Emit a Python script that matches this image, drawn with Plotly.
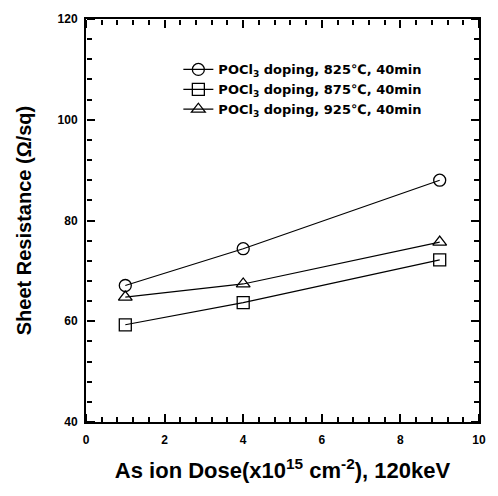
import plotly.graph_objects as go

dose = [1, 4, 9]
r_825 = [67.1, 74.4, 88.0]
r_875 = [59.3, 63.7, 72.2]
r_925 = [64.8, 67.4, 75.7]
labels = ["POCl<sub>3</sub> doping, 825℃, 40min",
          "POCl<sub>3</sub> doping, 875℃, 40min",
          "POCl<sub>3</sub> doping, 925℃, 40min"]
symbols = ["circle-open", "square-open", "triangle-up-open"]
x_range = [0, 10]
y_range = [40, 120]

FONT = "Liberation Sans, Arial, sans-serif"
LFONT = "DejaVu Sans, sans-serif"
fig = go.Figure()
for y, lab, sym in zip([r_825, r_875, r_925], labels, symbols):
    fig.add_trace(go.Scatter(
        x=dose, y=y, name=lab, mode="lines+markers",
        line=dict(color="black", width=1.2),
        marker=dict(symbol=sym, size=12, color="black", line=dict(width=1.3, color="black")),
    ))
# empty helper traces so the inward-pointing tick axes are drawn
for xa, ya in [("x2", "y2"), ("x3", "y3")]:
    fig.add_trace(go.Scatter(x=[None], y=[None], xaxis=xa, yaxis=ya,
                             showlegend=False, hoverinfo="skip", mode="markers"))

tick_x = dict(range=x_range, dtick=2, tick0=0, tickmode="linear",
              ticks="outside", tickcolor="black", ticklen=8, tickwidth=2,
              minor=dict(ticks="outside", ticklen=5, tickwidth=1.5, dtick=0.4, tickcolor="black", showgrid=False),
              showticklabels=False, showgrid=False, zeroline=False, showline=False,
              anchor="free", overlaying="x")
tick_y = dict(range=y_range, dtick=20, tick0=40, tickmode="linear",
              ticks="outside", tickcolor="black", ticklen=8, tickwidth=2,
              minor=dict(ticks="outside", ticklen=5, tickwidth=1.5, dtick=4, tickcolor="black", showgrid=False),
              showticklabels=False, showgrid=False, zeroline=False, showline=False,
              anchor="free", overlaying="y")

fig.update_layout(
    width=498, height=496,
    margin=dict(l=86, r=19, t=13, b=74),
    paper_bgcolor="white", plot_bgcolor="white",
    showlegend=True,
    xaxis=dict(range=x_range, dtick=2, tick0=0, tickmode="linear",
               showline=True, linecolor="black", linewidth=2, mirror=True,
               ticks="", ticklabelstandoff=6,
               showgrid=False, zeroline=False,
               tickfont=dict(family=FONT, size=12, color="black", weight="bold"),
               title=dict(text="As ion Dose(x10<sup>15</sup> cm<sup>-2</sup>), 120keV",
                          font=dict(family=FONT, size=22, color="black", weight="bold"), standoff=16)),
    yaxis=dict(range=y_range, dtick=20, tick0=40, tickmode="linear",
               showline=True, linecolor="black", linewidth=2, mirror=True,
               ticks="", ticklabelstandoff=4,
               showgrid=False, zeroline=False,
               tickfont=dict(family=FONT, size=12, color="black", weight="bold"),
               title=dict(text="Sheet Resistance (Ω/sq)",
                          font=dict(family=FONT, size=20, color="black", weight="bold"), standoff=21)),
    xaxis2=dict(side="top", position=0, **tick_x),
    xaxis3=dict(side="bottom", position=1, **tick_x),
    yaxis2=dict(side="right", position=0, **tick_y),
    yaxis3=dict(side="left", position=1, **tick_y),
    legend=dict(x=0.235, y=0.912, xanchor="left", yanchor="top",
                bgcolor="rgba(0,0,0,0)", borderwidth=0,
                font=dict(family=LFONT, size=13, color="black", weight="bold"),
                itemwidth=30, tracegroupgap=0),
)
fig.write_html("out.html")
